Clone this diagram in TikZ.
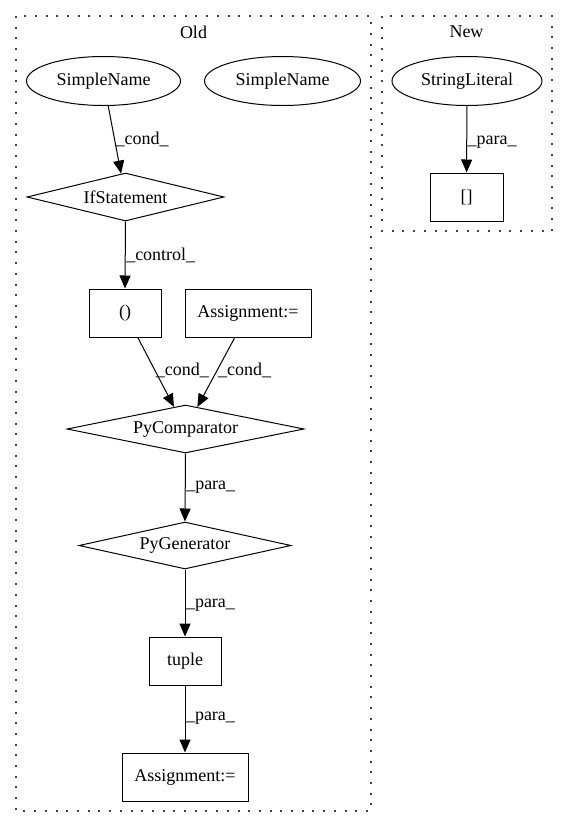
\documentclass[tikz,border=0pt]{standalone}
\usepackage{fontspec}
\setmainfont{Liberation Serif}
\usetikzlibrary{shapes.geometric,arrows.meta}
\begin{document}
\begin{tikzpicture}[x=1pt,y=-1pt,
  every node/.style={font=\fontsize{18}{21}\selectfont},
  base/.style={draw=black,line width=1pt,inner sep=0pt,text=black},
  ell/.style={base,ellipse},
  dia/.style={base,diamond,aspect=4},
  box/.style={base,rectangle},
  cluster/.style={draw=black!75,line width=1.3pt,dash pattern=on 2pt off 8.7pt},
  edge/.style={draw=black,line width=1pt,-{Triangle[length=13pt,width=11pt]}},
  lbl/.style={anchor=west,inner sep=0.5pt,text=black}
]
\useasboundingbox (0,0) rectangle (568,828);
\fill[white] (0,0) rectangle (568,828);
% clusters
\draw[cluster] (16,16) rectangle (371,811);
\draw[cluster] (382,16) rectangle (552,231);
\node (oldlbl) at (193.5,32) {Old};
\node (newlbl) at (466.5,32) {New};
% nodes (Old)
\node[ell,minimum width=154pt,minimum height=49pt] (sn1) at (103.5,81) {SimpleName};
\node[ell,minimum width=156pt,minimum height=49pt] (sn2) at (282.5,81) {SimpleName};
\node[dia,minimum width=197pt,minimum height=48pt] (ifs) at (125.5,197) {IfStatement};
\node[box,minimum width=72pt,minimum height=48pt] (par) at (125,313) {()};
\node[box,minimum width=126pt,minimum height=48pt] (asg1) at (248,313) {Assignment:=};
\node[dia,minimum width=237pt,minimum height=48pt] (pyc) at (185.5,429) {PyComparator};
\node[dia,minimum width=212pt,minimum height=47pt] (pyg) at (185,545.5) {PyGenerator};
\node[box,minimum width=72pt,minimum height=48pt] (tup) at (185,661) {tuple};
\node[box,minimum width=126pt,minimum height=48pt] (asg2) at (185,777) {Assignment:=};
% nodes (New)
\node[ell,minimum width=150pt,minimum height=49pt] (str) at (467,81) {StringLiteral};
\node[box,minimum width=73pt,minimum height=48pt] (brk) at (466.5,197) {[]};
% edges
\draw[edge] (sn1) -- node[lbl,pos=0.5] {\_cond\_} (ifs);
\draw[edge] (ifs.south) -- node[lbl,pos=0.5] {\_control\_} (par.north);
\draw[edge] (par) -- node[lbl,pos=0.47] {\_cond\_} (pyc);
\draw[edge] (asg1) -- node[lbl,pos=0.47] {\_cond\_} (pyc);
\draw[edge] (pyc.south) -- node[lbl,pos=0.49] {\_para\_} (pyg.north);
\draw[edge] (pyg.south) -- node[lbl,pos=0.53] {\_para\_} (tup.north);
\draw[edge] (tup.south) -- node[lbl,pos=0.49] {\_para\_} (asg2.north);
\draw[edge] (str) -- node[lbl,pos=0.55] {\_para\_} (brk);
\end{tikzpicture}
\end{document}
